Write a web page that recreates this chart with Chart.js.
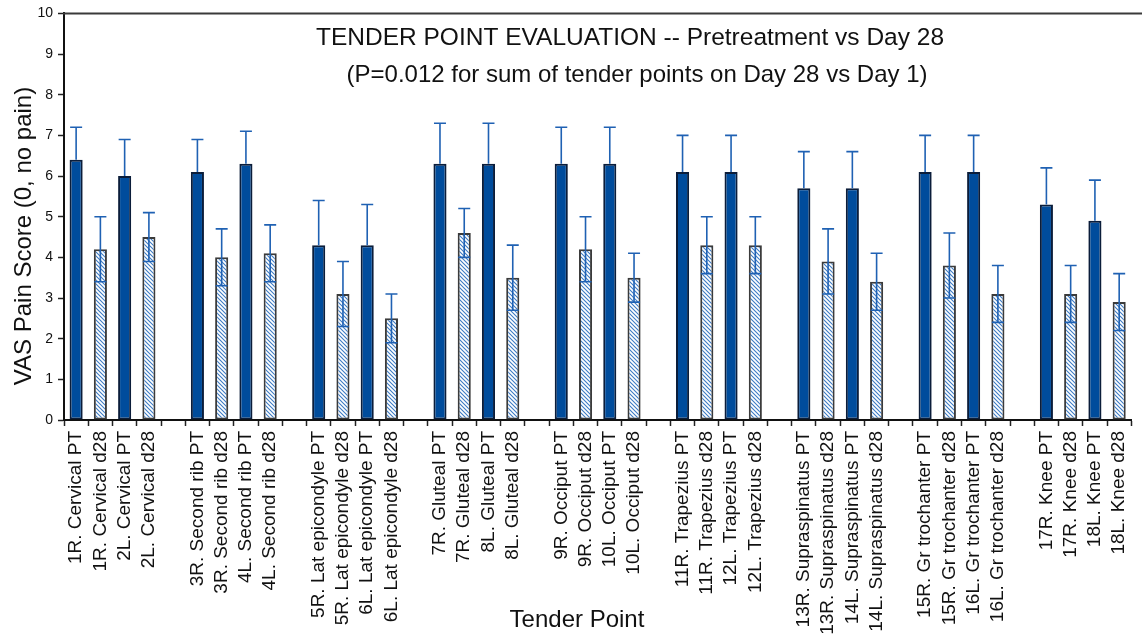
<!DOCTYPE html>
<html>
<head>
<meta charset="utf-8">
<script src="https://cdn.jsdelivr.net/npm/chart.js@4/dist/chart.umd.min.js"></script>
<style>
  html, body { margin: 0; padding: 0; background: #ffffff; overflow: hidden; }
  #wrap { width: 1142px; height: 636px; overflow: hidden; }
  canvas { display: block; }
</style>
</head>
<body>
<div id="wrap"><canvas id="c" width="1147" height="636"></canvas></div>
<script>
// Tender point sites, in the order they are examined
const sites = [
  '1R. Cervical', '2L. Cervical',
  '3R. Second rib', '4L. Second rib',
  '5R. Lat epicondyle', '6L. Lat epicondyle',
  '7R. Gluteal', '8L. Gluteal',
  '9R. Occiput', '10L. Occiput',
  '11R. Trapezius', '12L. Trapezius',
  '13R. Supraspinatus', '14L. Supraspinatus',
  '15R. Gr trochanter', '16L. Gr trochanter',
  '17R. Knee', '18L. Knee'
];

// Mean VAS pain score and error (one SD-style bar) per site
const pretreatment    = [6.4, 6.0, 6.1, 6.3, 4.3, 4.3, 6.3, 6.3, 6.3, 6.3, 6.1, 6.1, 5.7, 5.7, 6.1, 6.1, 5.3, 4.9];
const pretreatmentErr = [0.8, 0.9, 0.8, 0.8, 1.1, 1.0, 1.0, 1.0, 0.9, 0.9, 0.9, 0.9, 0.9, 0.9, 0.9, 0.9, 0.9, 1.0];
const day28           = [4.2, 4.5, 4.0, 4.1, 3.1, 2.5, 4.6, 3.5, 4.2, 3.5, 4.3, 4.3, 3.9, 3.4, 3.8, 3.1, 3.1, 2.9];
const day28Err        = [0.8, 0.6, 0.7, 0.7, 0.8, 0.6, 0.6, 0.8, 0.8, 0.6, 0.7, 0.7, 0.8, 0.7, 0.8, 0.7, 0.7, 0.7];

// Axis range and text
const yTicks = [0, 1, 2, 3, 4, 5, 6, 7, 8, 9, 10];
const titleText = 'TENDER POINT EVALUATION -- Pretreatment vs Day 28';
const subtitleText = '(P=0.012 for sum of tender points on Day 28 vs Day 1)';
const xTitle = 'Tender Point';
const yTitle = 'VAS Pain Score (0, no pain)';

// Build the category slots: two sites (four bars) per group, blank slot between groups
const labels = [], ptData = [], ptErrs = [], d28Data = [], d28Errs = [];
sites.forEach((s, i) => {
  if (i > 0 && i % 2 === 0) {
    labels.push(''); ptData.push(null); ptErrs.push(null); d28Data.push(null); d28Errs.push(null);
  }
  labels.push(s + ' PT');  ptData.push(pretreatment[i]); ptErrs.push(pretreatmentErr[i]); d28Data.push(null); d28Errs.push(null);
  labels.push(s + ' d28'); ptData.push(null); ptErrs.push(null); d28Data.push(day28[i]); d28Errs.push(day28Err[i]);
});

// Diagonal hatch fill for the Day 28 bars
function makeHatch() {
  const s = 4;
  const pc = document.createElement('canvas');
  pc.width = s; pc.height = s;
  const p = pc.getContext('2d');
  p.fillStyle = '#ffffff';
  p.fillRect(0, 0, s, s);
  p.strokeStyle = '#3d7bc4';
  p.lineWidth = 1.1;
  p.beginPath();
  p.moveTo(-1, -1); p.lineTo(s + 1, s + 1);
  p.moveTo(-1, s - 1); p.lineTo(1, s + 1);
  p.moveTo(s - 1, -1); p.lineTo(s + 1, 1);
  p.stroke();
  return document.getElementById('c').getContext('2d').createPattern(pc, 'repeat');
}

const FONT = "'Liberation Sans', Arial, Helvetica, sans-serif";

// Error bars: Pretreatment shows the upper arm only, Day 28 shows both arms
const errorBars = {
  id: 'errorBars',
  afterDatasetsDraw(chart) {
    const ctx = chart.ctx;
    const y = chart.scales.y;
    chart.data.datasets.forEach((ds, di) => {
      const meta = chart.getDatasetMeta(di);
      meta.data.forEach((bar, j) => {
        const v = ds.data[j];
        const e = ds.errors[j];
        if (v == null || e == null) return;
        const x = bar.x;
        const cap = 6;
        const yTop = y.getPixelForValue(v + e);
        const yBot = y.getPixelForValue(ds.bothArms ? v - e : v);
        ctx.save();
        ctx.strokeStyle = '#1f61b3';
        ctx.lineWidth = 1.6;
        ctx.beginPath();
        ctx.moveTo(x, yBot); ctx.lineTo(x, yTop);
        ctx.moveTo(x - cap, yTop); ctx.lineTo(x + cap, yTop);
        if (ds.bothArms) { ctx.moveTo(x - cap, yBot); ctx.lineTo(x + cap, yBot); }
        ctx.stroke();
        ctx.restore();
      });
    });
  }
};

// Frame line along the top and the title / axis titles
const decorations = {
  id: 'decorations',
  afterDraw(chart) {
    const ctx = chart.ctx;
    const a = chart.chartArea;
    ctx.save();
    ctx.strokeStyle = '#3a3a3a';
    ctx.lineWidth = 2;
    ctx.beginPath();
    ctx.moveTo(a.left - 1, a.top);
    ctx.lineTo(chart.width, a.top);
    ctx.stroke();

    ctx.fillStyle = '#111111';
    ctx.textAlign = 'center';
    ctx.textBaseline = 'middle';
    ctx.font = '24.5px ' + FONT;
    ctx.fillText(titleText, a.left + 566, a.top + 25);
    ctx.font = '24px ' + FONT;
    ctx.fillText(subtitleText, a.left + 573, a.top + 62);

    ctx.font = '24px ' + FONT;
    ctx.fillText(xTitle, a.left + 513, 620);

    ctx.translate(24, 236);
    ctx.rotate(-Math.PI / 2);
    ctx.fillText(yTitle, 0, 0);
    ctx.restore();
  }
};

const hatch = makeHatch();

new Chart(document.getElementById('c'), {
  type: 'bar',
  data: {
    labels: labels,
    datasets: [
      {
        label: 'Pretreatment',
        data: ptData,
        errors: ptErrs,
        bothArms: false,
        backgroundColor: '#004c9c',
        borderColor: '#0b1d3a',
        borderWidth: 2,
        borderSkipped: false
      },
      {
        label: 'Day 28',
        data: d28Data,
        errors: d28Errs,
        bothArms: true,
        backgroundColor: hatch,
        borderColor: '#3b3b3b',
        borderWidth: 2,
        borderSkipped: false
      }
    ]
  },
  options: {
    responsive: false,
    animation: false,
    layout: { padding: { top: 13, right: 2, left: 0, bottom: 0 } },
    datasets: { bar: { grouped: false, categoryPercentage: 1.0, barPercentage: 0.54 } },
    plugins: { legend: { display: false }, tooltip: { enabled: false }, title: { display: false } },
    scales: {
      x: {
        type: 'category',
        offset: true,
        afterFit(scale) { scale.height = 216; },
        border: { display: true, color: '#111111', width: 2 },
        grid: { display: true, drawOnChartArea: false, drawTicks: true, tickLength: 6, tickColor: '#222222', tickWidth: 1.5, offset: true },
        ticks: {
          autoSkip: false, minRotation: 90, maxRotation: 90, padding: 5,
          color: '#111111', font: { family: FONT, size: 19 }
        }
      },
      y: {
        min: 0, max: 10,
        afterFit(scale) { scale.width = 64; },
        afterBuildTicks(scale) { scale.ticks = yTicks.map(v => ({ value: v })); },
        border: { display: true, color: '#111111', width: 2 },
        grid: { display: true, drawOnChartArea: false, drawTicks: true, tickLength: 6, tickColor: '#222222', tickWidth: 1.5 },
        ticks: { padding: 5, color: '#111111', font: { family: FONT, size: 14 } }
      }
    }
  },
  plugins: [errorBars, decorations]
});
</script>
</body>
</html>
